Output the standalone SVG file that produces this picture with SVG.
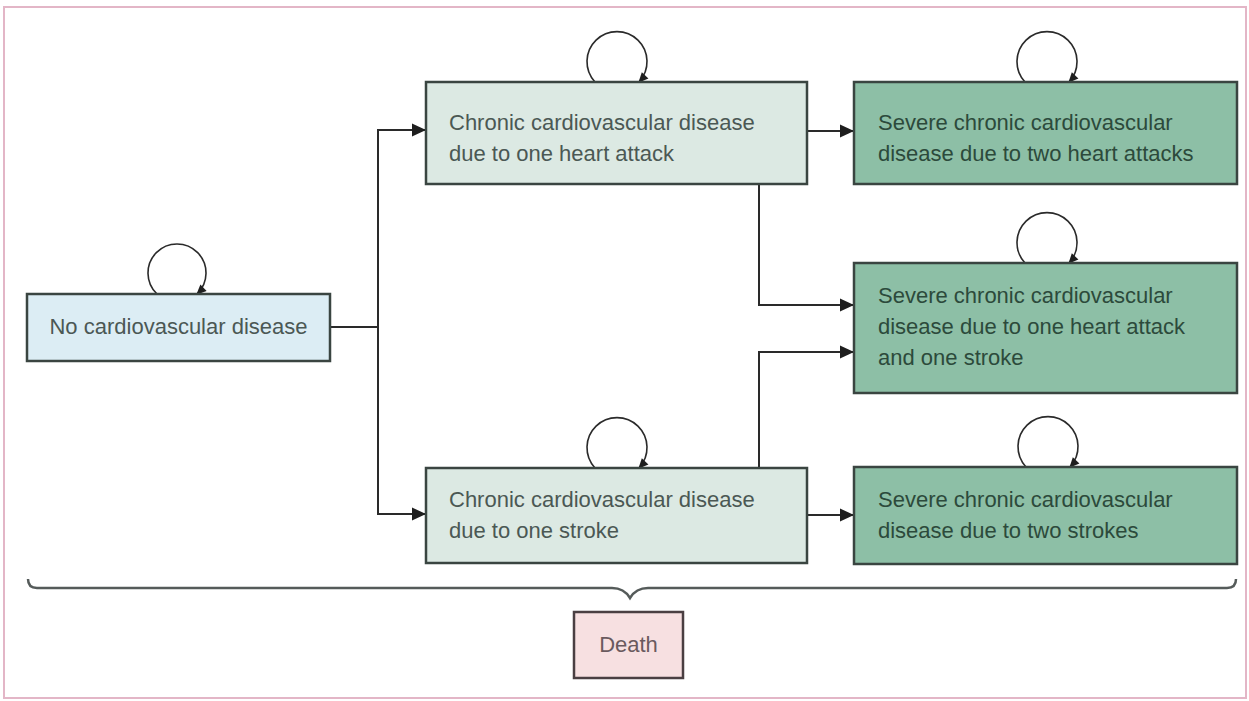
<svg xmlns="http://www.w3.org/2000/svg" width="1249" height="701" viewBox="0 0 1249 701">
<style>
  text { font-family: "Liberation Sans", Arial, sans-serif; font-size: 22px; }
  .box { stroke: #3a4541; stroke-width: 2.5; }
  .start { fill: #dcedf4; }
  .chronic { fill: #dce9e3; }
  .severe { fill: #8dbfa6; }
  .death { fill: #f7e0e1; stroke: #4a3f42; }
  .t-light { fill: #4b5854; }
  .t-sev { fill: #2c4a3b; }
  .t-death { fill: #6a5a5e; }
  .conn { fill: none; stroke: #2a2a2a; stroke-width: 2; }
  .loop { fill: none; stroke: #2a2a2a; stroke-width: 1.6; }
  .brace { fill: none; stroke: #555b5a; stroke-width: 2.5; }
</style>
<defs>
  <marker id="arrow" markerUnits="userSpaceOnUse" markerWidth="16" markerHeight="16" viewBox="0 0 16 16" refX="15" refY="8" orient="auto">
    <path d="M1,1.5 L15,8 L1,14.5 Z" fill="#1e1e1e"/>
  </marker>
  <marker id="loopArrow" markerUnits="userSpaceOnUse" markerWidth="12" markerHeight="12" viewBox="0 0 12 12" refX="10" refY="6" orient="auto">
    <path d="M1,1.5 L11,6 L1,10.5 Z" fill="#1e1e1e"/>
  </marker>
</defs>
<rect x="4" y="7" width="1242" height="691" fill="#ffffff" stroke="#e3b6c7" stroke-width="2"/>

<g id="connectors">
  <path class="conn" d="M330,327 H378 V130 H426" marker-end="url(#arrow)"/>
  <path class="conn" d="M378,327 V514 H426" marker-end="url(#arrow)"/>
  <path class="conn" d="M807,131 H854" marker-end="url(#arrow)"/>
  <path class="conn" d="M807,515 H854" marker-end="url(#arrow)"/>
  <path class="conn" d="M759,184 V305 H854" marker-end="url(#arrow)"/>
  <path class="conn" d="M759,468 V352 H854" marker-end="url(#arrow)"/>
  <path class="loop" d="M157,294 A29,29 0 1,1 197,294" marker-end="url(#loopArrow)"/>
  <path class="loop" d="M595,82 A30,30 0 1,1 639,82" marker-end="url(#loopArrow)"/>
  <path class="loop" d="M1025,82 A30,30 0 1,1 1069,82" marker-end="url(#loopArrow)"/>
  <path class="loop" d="M1025,263 A30,30 0 1,1 1069,263" marker-end="url(#loopArrow)"/>
  <path class="loop" d="M595,468 A30,30 0 1,1 639,468" marker-end="url(#loopArrow)"/>
  <path class="loop" d="M1026,467 A30,30 0 1,1 1070,467" marker-end="url(#loopArrow)"/>
  <path class="brace" d="M28,579 Q28,588 37,588 L612,588 Q624,588 630,598 Q636,588 648,588 L1227,588 Q1236,588 1236,579"/>
</g>

<g id="node-none">
  <rect class="box start" x="27" y="294" width="303" height="67"/>
  <text class="t-light" x="178.5" y="334" text-anchor="middle">No cardiovascular disease</text>
</g>

<g id="node-ha1">
  <rect class="box chronic" x="426" y="82" width="381" height="102"/>
  <text class="t-light" x="449" y="130">Chronic cardiovascular disease</text>
  <text class="t-light" x="449" y="161">due to one heart attack</text>
</g>

<g id="node-st1">
  <rect class="box chronic" x="426" y="468" width="381" height="95"/>
  <text class="t-light" x="449" y="507">Chronic cardiovascular disease</text>
  <text class="t-light" x="449" y="538">due to one stroke</text>
</g>

<g id="node-ha2">
  <rect class="box severe" x="854" y="82" width="383" height="102"/>
  <text class="t-sev" x="878" y="130">Severe chronic cardiovascular</text>
  <text class="t-sev" x="878" y="161">disease due to two heart attacks</text>
</g>

<g id="node-hast">
  <rect class="box severe" x="854" y="263" width="383" height="130"/>
  <text class="t-sev" x="878" y="303">Severe chronic cardiovascular</text>
  <text class="t-sev" x="878" y="334">disease due to one heart attack</text>
  <text class="t-sev" x="878" y="365">and one stroke</text>
</g>

<g id="node-st2">
  <rect class="box severe" x="854" y="467" width="383" height="97"/>
  <text class="t-sev" x="878" y="507">Severe chronic cardiovascular</text>
  <text class="t-sev" x="878" y="538">disease due to two strokes</text>
</g>

<g id="node-death">
  <rect class="box death" x="574" y="612" width="109" height="66"/>
  <text class="t-death" x="628.5" y="652" text-anchor="middle">Death</text>
</g>
</svg>
